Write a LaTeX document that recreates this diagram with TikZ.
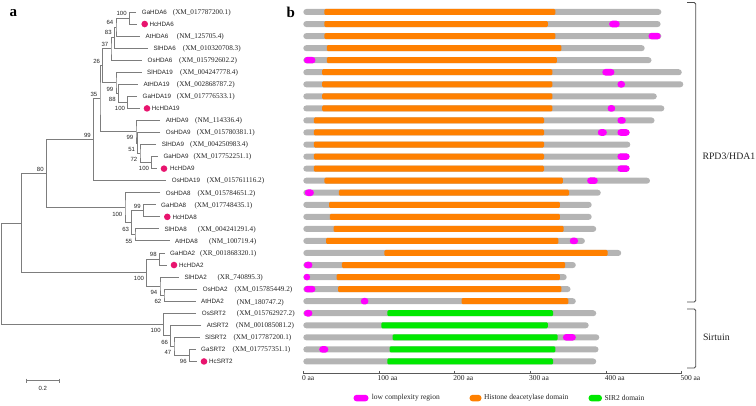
\documentclass[tikz,border=0pt]{standalone}
\usepackage{fontspec}
\setmainfont{Liberation Serif}
\setsansfont{Liberation Sans}
\definecolor{treec}{RGB}{125,125,125}
\definecolor{barg}{RGB}{180,180,180}
\definecolor{hdac}{RGB}{255,128,0}
\definecolor{sirc}{RGB}{0,232,0}
\definecolor{lcr}{RGB}{255,0,255}
\definecolor{hcdot}{RGB}{232,20,110}
\definecolor{txt}{RGB}{35,35,35}
\newcommand\accfont{\rmfamily\fontsize{7.2}{8}\selectfont}
\begin{document}
\begin{tikzpicture}[x=1pt,y=-1pt,
  tree/.style={draw=treec, line width=0.9pt},
  boot/.style={font=\sffamily\fontsize{6}{6}\selectfont, inner sep=0pt, text=txt},
  bootA/.style={boot, anchor=south east, xshift=-2.5pt, yshift=2.4pt},
  bootB/.style={boot, anchor=north east, xshift=-2.5pt, yshift=-3.9pt},
  gene/.style={font=\sffamily\fontsize{6.25}{7}\selectfont, inner sep=0pt, anchor=base west, text=txt},
  acc/.style={font=\accfont, inner sep=0pt, anchor=base west, text=txt},
  hcd/.style={circle, fill=hcdot, minimum size=6.6pt, inner sep=0pt},
  axisc/.style={draw=black!65, line width=0.7pt},
  brk/.style={draw=black!70, line width=0.8pt, rounded corners=1.5pt},
  legtxt/.style={font=\rmfamily\fontsize{7.5}{8}\selectfont, inner sep=0pt, anchor=west, text=txt},
  grp/.style={font=\rmfamily\fontsize{9.8}{10}\selectfont, inner sep=0pt, anchor=west, text=txt},
  panel/.style={font=\rmfamily\bfseries\fontsize{15}{15}\selectfont, inner sep=0pt, anchor=base west}]
\useasboundingbox (0,0) rectangle (756,406);

% panel letters
\node[panel] (pa) at (9.5,17) {a};
\node[panel] (pb) at (286.5,17.5) {b};

% ---------- leaf tips ----------
\coordinate (l0) at (136.2,12);
\coordinate (l1) at (137.2,24.05);
\coordinate (l2) at (140,36.1);
\coordinate (l3) at (147.8,48.15);
\coordinate (l4) at (142,60.2);
\coordinate (l5) at (141.5,72.25);
\coordinate (l6) at (137.8,84.3);
\coordinate (l7) at (137,96.35);
\coordinate (l8) at (139.5,108.4);
\coordinate (l9) at (160.2,120.45);
\coordinate (l10) at (160.2,132.5);
\coordinate (l11) at (156.2,144.55);
\coordinate (l12) at (157.8,156.6);
\coordinate (l13) at (156.5,168.65);
\coordinate (l14) at (166.2,180.7);
\coordinate (l15) at (160.2,192.75);
\coordinate (l16) at (155.5,204.8);
\coordinate (l17) at (159.8,216.85);
\coordinate (l18) at (158.8,228.9);
\coordinate (l19) at (169.5,240.95);
\coordinate (l20) at (164.5,253);
\coordinate (l21) at (166.5,265.05);
\coordinate (l22) at (178.8,277.1);
\coordinate (l23) at (197.2,289.15);
\coordinate (l24) at (195.5,301.2);
\coordinate (l25) at (196.2,313.25);
\coordinate (l26) at (201.2,325.3);
\coordinate (l27) at (199.5,337.35);
\coordinate (l28) at (195.5,349.4);
\coordinate (l29) at (196.5,361.45);

% ---------- internal nodes ----------
\coordinate (n1) at (129.3,18.03);
\coordinate (n2) at (116,27.06);
\coordinate (n3) at (114.3,37.6);
\coordinate (n4) at (111,48.9);
\coordinate (n5) at (127.7,102.4);
\coordinate (n6) at (118.3,93.3);
\coordinate (n7) at (116,82.8);
\coordinate (n8) at (102.7,65.85);
\coordinate (n9) at (151.7,162.6);
\coordinate (n10) at (140,153.6);
\coordinate (n11) at (137.7,143.0);
\coordinate (n12) at (136,131.7);
\coordinate (n13) at (100,98.8);
\coordinate (n14) at (93.5,139.7);
\coordinate (n15) at (143.3,210.8);
\coordinate (n16) at (135,234.9);
\coordinate (n17) at (131.7,222.9);
\coordinate (n18) at (125,207.8);
\coordinate (n19) at (46.3,173.8);
\coordinate (n20) at (159.3,259);
\coordinate (n21) at (164,295.2);
\coordinate (n22) at (160,286.1);
\coordinate (n23) at (146.7,272.6);
\coordinate (n24) at (21.7,223.2);
\coordinate (n25) at (189.3,355.4);
\coordinate (n26) at (174,346.4);
\coordinate (n27) at (170.7,335.8);
\coordinate (n28) at (163.3,324.5);
\coordinate (root) at (1.7,273.85);

% ---------- branches ----------
\draw[tree] (l0) -| (n1) |- (l1);
\draw[tree] (n1) -| (n2) |- (l2);
\draw[tree] (n2) -| (n3) |- (l3);
\draw[tree] (n3) -| (n4) |- (l4);
\draw[tree] (l7) -| (n5) |- (l8);
\draw[tree] (l6) -| (n6) |- (n5);
\draw[tree] (l5) -| (n7) |- (n6);
\draw[tree] (n4) -| (n8) |- (n7);
\draw[tree] (l12) -| (n9) |- (l13);
\draw[tree] (l11) -| (n10) |- (n9);
\draw[tree] (l10) -| (n11) |- (n10);
\draw[tree] (l9) -| (n12) |- (n11);
\draw[tree] (n8) -| (n13) |- (n12);
\draw[tree] (n13) -| (n14) |- (l14);
\draw[tree] (l16) -| (n15) |- (l17);
\draw[tree] (l18) -| (n16) |- (l19);
\draw[tree] (n15) -| (n17) |- (n16);
\draw[tree] (l15) -| (n18) |- (n17);
\draw[tree] (n14) -| (n19) |- (n18);
\draw[tree] (l20) -| (n20) |- (l21);
\draw[tree] (l23) -| (n21) |- (l24);
\draw[tree] (l22) -| (n22) |- (n21);
\draw[tree] (n20) -| (n23) |- (n22);
\draw[tree] (n19) -| (n24) |- (n23);
\draw[tree] (l28) -| (n25) |- (l29);
\draw[tree] (l27) -| (n26) |- (n25);
\draw[tree] (l26) -| (n27) |- (n26);
\draw[tree] (l25) -| (n28) |- (n27);
\draw[tree] (n24) -| (root) |- (n28);

% ---------- bootstrap values ----------
\node[bootA] (b1) at (n1) {100};
\node[bootA] (b2) at (n2) {64};
\node[bootA] (b3) at (n3) {83};
\node[bootA] (b4) at (n4) {37};
\node[bootB] (b5) at (n5) {100};
\node[bootB] (b6) at (n6) {88};
\node[bootB] (b7) at (n7) {99};
\node[bootA] (b8) at (n8) {26};
\node[bootB] (b9) at (n9) {100};
\node[bootB] (b10) at (n10) {72};
\node[bootB] (b11) at (n11) {51};
\node[bootB] (b12) at (n12) {99};
\node[bootA] (b13) at (n13) {35};
\node[bootA] (b14) at (n14) {99};
\node[bootA] (b15) at (n15) {99};
\node[bootB] (b16) at (n16) {55};
\node[bootB] (b17) at (n17) {63};
\node[bootB] (b18) at (n18) {100};
\node[bootA] (b19) at (n19) {80};
\node[bootA] (b20) at (n20) {98};
\node[bootB] (b21) at (n21) {62};
\node[bootB] (b22) at (n22) {94};
\node[bootB] (b23) at (n23) {100};
\node[bootB] (b25) at (n25) {96};
\node[bootB] (b26) at (n26) {47};
\node[bootB] (b27) at (n27) {66};
\node[bootB] (b28) at (n28) {100};

% ---------- leaf labels ----------
\node[gene] (g0) at (141.7,14.3) {GaHDA6};
\node[acc]  (a0) at (172.7,14.3) {(XM\_017787200.1)};
\node[hcd]  (d1) at (144.7,24.05) {};
\node[gene] (g1) at (149.3,26.35) {HcHDA6};
\node[gene] (g2) at (145.5,38.4) {AtHDA6};
\node[acc]  (a2) at (176.7,38.4) {(NM\_125705.4)};
\node[gene] (g3) at (153.3,50.45) {SlHDA6};
\node[acc]  (a3) at (182.7,50.45) {(XM\_010320708.3)};
\node[gene] (g4) at (147.5,62.5) {OsHDA6};
\node[acc]  (a4) at (179,62.5) {(XM\_015792602.2)};
\node[gene] (g5) at (147,74.55) {SlHDA19};
\node[acc]  (a5) at (180,74.55) {(XM\_004247778.4)};
\node[gene] (g6) at (143.3,86.6) {AtHDA19};
\node[acc]  (a6) at (176.7,86.6) {(XM\_002868787.2)};
\node[gene] (g7) at (142.5,98.65) {GaHDA19};
\node[acc]  (a7) at (176.7,98.65) {(XM\_017776533.1)};
\node[hcd]  (d8) at (147,108.4) {};
\node[gene] (g8) at (151.7,110.7) {HcHDA19};
\node[gene] (g9) at (165.7,122.75) {AtHDA9};
\node[acc]  (a9) at (195,122.75) {(NM\_114336.4)};
\node[gene] (g10) at (165.7,134.8) {OsHDA9};
\node[acc]  (a10) at (196.7,134.8) {(XM\_015780381.1)};
\node[gene] (g11) at (161.7,146.85) {SlHDA9};
\node[acc]  (a11) at (190,146.85) {(XM\_004250983.4)};
\node[gene] (g12) at (163.3,158.9) {GaHDA9};
\node[acc]  (a12) at (193.3,158.9) {(XM\_017752251.1)};
\node[hcd]  (d13) at (164,168.65) {};
\node[gene] (g13) at (170,170.95) {HcHDA9};
\node[gene] (g14) at (171.7,183) {OsHDA19};
\node[acc]  (a14) at (206.7,183) {(XM\_015761116.2)};
\node[gene] (g15) at (165.7,195.05) {OsHDA8};
\node[acc]  (a15) at (197.3,195.05) {(XM\_015784651.2)};
\node[gene] (g16) at (161,207.1) {GaHDA8};
\node[acc]  (a16) at (194.3,207.1) {(XM\_017748435.1)};
\node[hcd]  (d17) at (167.3,216.85) {};
\node[gene] (g17) at (172.3,219.15) {HcHDA8};
\node[gene] (g18) at (164.3,231.2) {SlHDA8};
\node[acc]  (a18) at (197.7,231.2) {(XM\_004241291.4)};
\node[gene] (g19) at (175,243.25) {AtHDA8};
\node[acc]  (a19) at (209,243.25) {(NM\_100719.4)};
\node[gene] (g20) at (170,255.3) {GaHDA2};
\node[acc]  (a20) at (200,255.3) {(XR\_001868320.1)};
\node[hcd]  (d21) at (174,265.05) {};
\node[gene] (g21) at (179,267.35) {HcHDA2};
\node[gene] (g22) at (184.3,279.4) {SlHDA2};
\node[acc]  (a22) at (217.3,279.4) {(XR\_740895.3)};
\node[gene] (g23) at (202.7,291.45) {OsHDA2};
\node[acc]  (a23) at (234.3,291.45) {(XM\_015785449.2)};
\node[gene] (g24) at (201,303.5) {AtHDA2};
\node[acc]  (a24) at (236.7,304.5) {(NM\_180747.2)};
\node[gene] (g25) at (201.7,315.55) {OsSRT2};
\node[acc]  (a25) at (236.7,315.55) {(XM\_015762927.2)};
\node[gene] (g26) at (206.7,327.6) {AtSRT2};
\node[acc]  (a26) at (236,327.6) {(NM\_001085081.2)};
\node[gene] (g27) at (205,339.65) {SlSRT2};
\node[acc]  (a27) at (233.3,339.65) {(XM\_017787200.1)};
\node[gene] (g28) at (201,351.7) {GaSRT2};
\node[acc]  (a28) at (232.3,351.7) {(XM\_017757351.1)};
\node[hcd]  (d29) at (204,361.45) {};
\node[gene] (g29) at (209,363.75) {HcSRT2};

% scale bar
\coordinate (sb1) at (26,380.7);
\coordinate (sb2) at (59.3,380.7);
\draw[tree, line width=0.7pt] (sb1) -- (sb2);
\draw[tree, line width=0.7pt] ([yshift=2pt]sb1) -- ([yshift=-2pt]sb1);
\draw[tree, line width=0.7pt] ([yshift=2pt]sb2) -- ([yshift=-2pt]sb2);
\node[boot] (sbl) at (42.7,388) {0.2};

% ---------- domain bars ----------
\begin{scope}[xshift=303.3pt, x=0.757pt]
\foreach \i/\L/\s/\e/\c in {0/473/28/333/hdac, 1/472/28/323/hdac, 2/473/28/333/hdac,
  3/451/31/341/hdac, 4/460/31/335/hdac, 5/500/25/329/hdac, 6/502/25/329/hdac,
  7/467/25/329/hdac, 8/477/25/329/hdac, 9/464/14/318/hdac, 10/431/14/318/hdac,
  11/432/14/318/hdac, 12/431/14/318/hdac, 13/431/14/318/hdac, 14/458/28/343/hdac,
  15/393/47/351/hdac, 16/381/34/339/hdac, 17/381/35/339/hdac, 18/387/40/344/hdac,
  19/372/30/337/hdac, 20/420/107/402/hdac, 21/360/51/346/hdac, 22/348/44/339/hdac,
  23/353/46/341/hdac, 24/360/209/350/hdac, 25/387/111/330/sirc, 26/377/103/323/sirc,
  27/391/118/336/sirc, 28/390/114/333/sirc, 29/387/111/330/sirc}{
  \pgfmathsetmacro\yy{12+12.05*\i}
  \fill[barg, rounded corners=3pt] (0,\yy-3) rectangle (\L,\yy+3);
  \fill[\c, rounded corners=1.2pt] (\s,\yy-3) rectangle (\e,\yy+3);
}
\foreach \i/\s/\e in {1/404/418, 2/456/472, 4/1/16, 5/395/411, 6/415/425, 8/402/412,
  9/415/426, 10/389/401, 10/415/431, 12/415/431, 13/415/431, 14/375/389, 15/2/14,
  19/352/363, 21/1/12, 22/0.5/9, 23/1/16, 24/76/86, 25/1/12, 27/343/360, 28/21/33}{
  \pgfmathsetmacro\yy{12+12.05*\i}
  \fill[lcr, rounded corners=3.2pt] (\s,\yy-3.3) rectangle (\e,\yy+3.3);
}
% axis
\coordinate (ax0) at (0,373.3);
\coordinate (ax5) at (500,373.3);
\draw[axisc] (ax0) -- (ax5);
\foreach \v in {0,100,...,500}{
  \draw[axisc] (\v,370.8) -- (\v,373.3);
  \node[legtxt, xshift=-1.5pt] (t\v) at (\v,378.5) {\v\ aa};
}
\end{scope}

% ---------- legend ----------
\fill[lcr, rounded corners=3.2pt] (353.5,394.8) rectangle (368.5,401.4);
\node[legtxt] (lg1) at (371.7,398.2) {low complexity region};
\fill[hdac, rounded corners=3.2pt] (469.5,394.8) rectangle (481.5,401.4);
\node[legtxt] (lg2) at (484,398.2) {Histone deacetylase domain};
\fill[sirc, rounded corners=3.2pt] (588.5,394.8) rectangle (602,401.4);
\node[legtxt] (lg3) at (604.3,398.2) {SIR2 domain};

% ---------- group brackets ----------
\coordinate (r1) at (687,2.5);
\coordinate (r2) at (687,302);
\draw[brk] (r1) -- (695.7,2.5) -- (695.7,302) -- (r2);
\node[grp] (rpd) at (702.3,156) {RPD3/HDA1};
\coordinate (s1) at (687,309);
\coordinate (s2) at (687,368);
\draw[brk] (s1) -- (695.7,309) -- (695.7,368) -- (s2);
\node[grp] (sir) at (702.8,337) {Sirtuin};
\end{tikzpicture}
\end{document}
